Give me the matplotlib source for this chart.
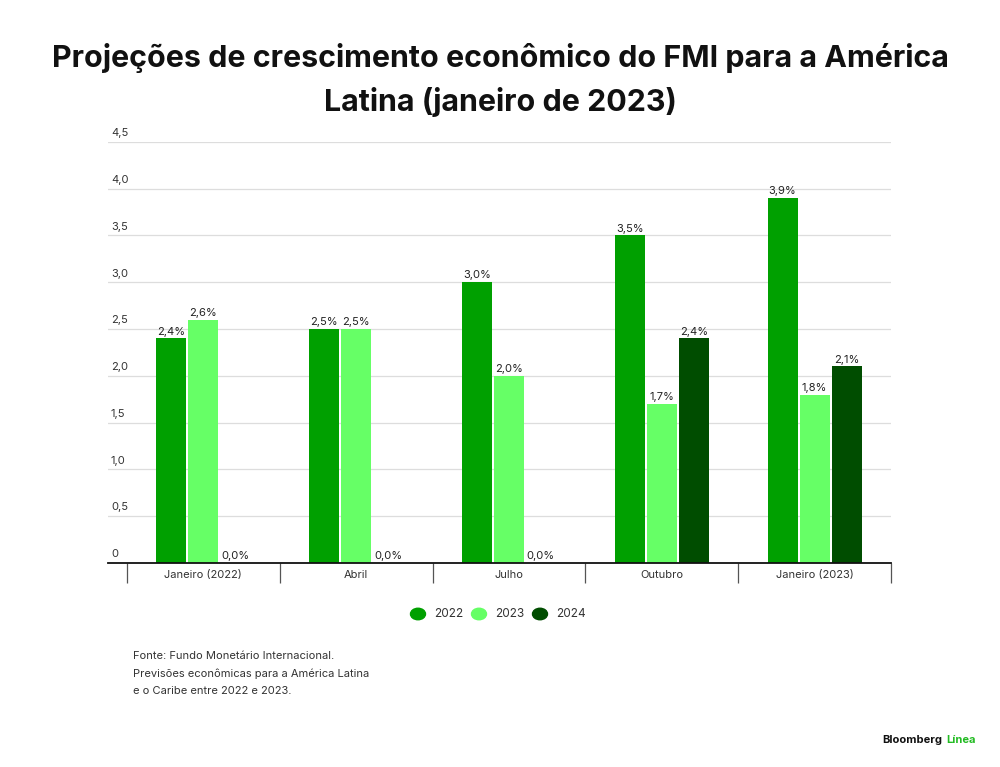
import matplotlib.pyplot as plt
import numpy as np

# dados
categorias = ['Janeiro (2022)', 'Abril', 'Julho', 'Outubro', 'Janeiro (2023)']
anos = ['2022', '2023', '2024']
v2022 = [2.4, 2.5, 3.0, 3.5, 3.9]
v2023 = [2.6, 2.5, 2.0, 1.7, 1.8]
v2024 = [0.0, 0.0, 0.0, 2.4, 2.1]
yticks = [0, 0.5, 1.0, 1.5, 2.0, 2.5, 3.0, 3.5, 4.0, 4.5]

cores = ['#00a000', '#66ff66', '#004d00']

plt.rcParams['font.family'] = ['Inter', 'DejaVu Sans']

fig = plt.figure(figsize=(10, 7.67), dpi=100)
ax = fig.add_axes([0.108, 0.266, 0.783, 0.549])

x = np.arange(len(categorias))
largura = 0.196
passo = 0.209
series = [v2022, v2023, v2024]
for i, (vals, cor) in enumerate(zip(series, cores)):
    pos = x + (i - 1) * passo
    ax.bar(pos, vals, width=largura, color=cor, zorder=2)
    for p, v in zip(pos, vals):
        rot = f'{v:.1f}%'.replace('.', ',')
        ax.text(p, v + 0.02, rot, ha='center', va='bottom', fontsize=8, color='#222222', zorder=3)

ax.set_xlim(-0.624, 4.5)
ax.set_ylim(0, 4.5)

# grade e rótulos do eixo y (acima das linhas)
ax.set_yticks(yticks)
ax.yaxis.grid(True, color='#dddddd', linewidth=0.9, zorder=0)
ax.tick_params(axis='y', length=0, labelleft=False)
for t in yticks:
    rot = '0' if t == 0 else f'{t:.1f}'.replace('.', ',')
    ax.text(-0.605, t + 0.04, rot, ha='left', va='bottom', fontsize=8, color='#333333')

# separadores das categorias
ax.set_xticks(np.arange(-0.5, 5, 1))
ax.tick_params(axis='x', length=14.5, width=0.9, color='#555555', labelbottom=False)
for i, c in enumerate(categorias):
    ax.text(i, -0.07, c, ha='center', va='top', fontsize=8, color='#333333')

for s in ['top', 'right', 'left']:
    ax.spines[s].set_visible(False)
ax.spines['bottom'].set_linewidth(1.3)
ax.spines['bottom'].set_color('#111111')

# título
fig.text(0.5, 1 - 80 / 767, 'Projeções de crescimento econômico do FMI para a América\nLatina (janeiro de 2023)',
         ha='center', va='center', fontsize=21.9, fontweight='bold', linespacing=1.62, color='#111111')

# legenda
for i, (ano, cor) in enumerate(zip(anos, cores)):
    xl = 0.418 + i * 0.061
    fig.patches.append(plt.Circle((xl, 1 - 614 / 767), 0.0075, transform=fig.transFigure,
                                  figure=fig, color=cor))
    fig.text(xl + 0.016, 1 - 614 / 767, ano, ha='left', va='center', fontsize=8.5, color='#333333')

# fonte
fig.text(0.133, 1 - 651 / 767,
         'Fonte: Fundo Monetário Internacional.\nPrevisões econômicas para a América Latina\ne o Caribe entre 2022 e 2023.',
         ha='left', va='top', fontsize=8, linespacing=1.9, color='#333333')

# marca
r = fig.canvas.get_renderer()
t1 = fig.text(0.882, 1 - 740 / 767, 'Bloomberg', ha='left', va='center', fontsize=8,
              fontweight='bold', color='#111111')
bb = t1.get_window_extent(renderer=r)
fig.text(bb.x1 / 1000 + 0.004, 1 - 740 / 767, 'Línea', ha='left', va='center', fontsize=8,
         fontweight='bold', color='#22bb22')

fig.savefig('out.png', dpi=100)
